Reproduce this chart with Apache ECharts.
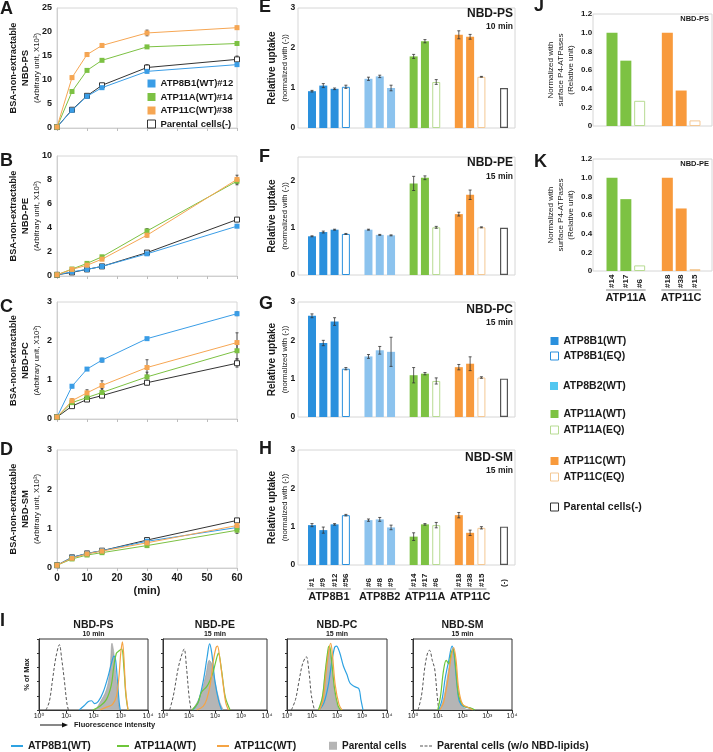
<!DOCTYPE html>
<html><head><meta charset="utf-8"><title>P4-ATPase flippase activity</title>
<script src="https://cdn.jsdelivr.net/npm/echarts@6.0.0/dist/echarts.min.js"></script>
<style>html,body{margin:0;padding:0;background:#fff;}#chart{width:713px;height:752px;}</style>
</head><body><div id="chart"></div>
<script>
// ===================== DATA =====================
const timeMin = [0, 5, 10, 15, 30, 60];

// A: NBD-PS (x10^2)
const psATP8B1   = [0.2, 3.7, 6.6, 8.4, 11.8, 13.2];
const psATP11A   = [0.2, 7.6, 12.0, 14.1, 16.9, 17.6];
const psATP11C   = [0.2, 10.5, 15.3, 17.2, 19.8, 20.9];
const psParental = [0.2, 3.8, 6.7, 8.9, 12.6, 14.3];
const psErrATP8B1   = [0, 0.2, 0.2, 0.2, 0.3, 0.3];
const psErrATP11A   = [0, 0.2, 0.2, 0.2, 0.2, 0.2];
const psErrATP11C   = [0, 0.3, 0.4, 0.4, 0.6, 0.3];
const psErrParental = [0, 0.2, 0.2, 0.3, 0.6, 0.7];

// B: NBD-PE
const peATP8B1   = [0.1, 0.35, 0.55, 0.8, 1.85, 4.15];
const peATP11A   = [0.1, 0.58, 1.05, 1.6, 3.75, 7.9];
const peATP11C   = [0.1, 0.55, 0.9, 1.4, 3.4, 8.05];
const peParental = [0.1, 0.3, 0.55, 0.8, 1.95, 4.7];
const peErrATP8B1   = [0, 0.05, 0.05, 0.05, 0.1, 0.1];
const peErrATP11A   = [0, 0.08, 0.1, 0.1, 0.2, 0.3];
const peErrATP11C   = [0, 0.08, 0.1, 0.1, 0.15, 0.35];
const peErrParental = [0, 0.05, 0.05, 0.05, 0.1, 0.1];

// C: NBD-PC
const pcATP8B1   = [0.05, 0.84, 1.28, 1.51, 2.06, 2.7];
const pcATP11A   = [0.05, 0.42, 0.55, 0.68, 1.08, 1.75];
const pcATP11C   = [0.05, 0.47, 0.67, 0.86, 1.32, 1.96];
const pcParental = [0.05, 0.33, 0.5, 0.6, 0.93, 1.43];
const pcErrATP8B1   = [0, 0.04, 0.03, 0.05, 0.03, 0.05];
const pcErrATP11A   = [0, 0.05, 0.08, 0.1, 0.12, 0.2];
const pcErrATP11C   = [0, 0.05, 0.08, 0.12, 0.2, 0.25];
const pcErrParental = [0, 0.03, 0.03, 0.05, 0.05, 0.1];

// D: NBD-SM
const smATP8B1   = [0.07, 0.27, 0.37, 0.44, 0.68, 1.03];
const smATP11A   = [0.07, 0.23, 0.33, 0.39, 0.57, 0.96];
const smATP11C   = [0.07, 0.25, 0.36, 0.43, 0.64, 1.08];
const smParental = [0.07, 0.27, 0.37, 0.44, 0.71, 1.21];
const smErrATP8B1   = [0, 0.02, 0.02, 0.03, 0.04, 0.05];
const smErrATP11A   = [0, 0.02, 0.02, 0.03, 0.05, 0.08];
const smErrATP11C   = [0, 0.02, 0.02, 0.03, 0.05, 0.05];
const smErrParental = [0, 0.02, 0.02, 0.02, 0.04, 0.05];

// E-H: relative uptake
const barCats  = ['#1', '#9', '#12', '#56', '', '#6', '#8', '#9', '', '#14', '#17', '#6', '', '#18', '#38', '#15', '', '(-)'];
const barGroup = ['8B1WT', '8B1WT', '8B1WT', '8B1EQ', '', '8B2WT', '8B2WT', '8B2WT', '', '11AWT', '11AWT', '11AEQ', '', '11CWT', '11CWT', '11CEQ', '', 'PAR'];
const groupNamesEH = ['ATP8B1', 'ATP8B2', 'ATP11A', 'ATP11C'];
const groupStartEH = [0, 5, 9, 13];
const groupEndEH   = [3, 7, 11, 15];

const uptakePS = [0.92, 1.06, 0.98, 1.03, null, 1.23, 1.29, 1.00, null, 1.79, 2.17, 1.15, null, 2.33, 2.28, 1.28, null, 1.00];
const errPS    = [0.02, 0.05, 0.02, 0.04, 0, 0.04, 0.03, 0.07, 0, 0.05, 0.04, 0.06, 0, 0.10, 0.06, 0.01, 0, 0];
const starsPS  = ['', '', '', '', '', '', '', '', '', '*', '*', '', '', '*', '*', '', '', ''];

const uptakePE = [0.82, 0.91, 0.96, 0.87, null, 0.96, 0.85, 0.84, null, 1.94, 2.06, 1.01, null, 1.29, 1.70, 1.01, null, 1.00];
const errPE    = [0.01, 0.02, 0.01, 0.01, 0, 0.01, 0.01, 0.01, 0, 0.15, 0.04, 0.02, 0, 0.04, 0.10, 0.01, 0, 0];
const starsPE  = ['', '', '', '', '', '', '', '', '', '*', '*', '', '', '*', '*', '', '', ''];

const uptakePC = [2.64, 1.93, 2.49, 1.26, null, 1.58, 1.74, 1.70, null, 1.09, 1.13, 0.94, null, 1.30, 1.39, 1.03, null, 1.00];
const errPC    = [0.05, 0.07, 0.10, 0.03, 0, 0.05, 0.10, 0.38, 0, 0.20, 0.03, 0.08, 0, 0.07, 0.18, 0.02, 0, 0];
const starsPC  = ['*', '*', '*', '', '', '*', '**', '', '', '', '', '', '', '', '', '', '', ''];

const uptakeSM = [1.04, 0.91, 1.06, 1.30, null, 1.17, 1.19, 0.98, null, 0.74, 1.06, 1.04, null, 1.30, 0.84, 0.97, null, 1.00];
const errSM    = [0.04, 0.08, 0.02, 0.02, 0, 0.03, 0.05, 0.06, 0, 0.10, 0.02, 0.07, 0, 0.07, 0.07, 0.03, 0, 0];
const starsSM  = ['', '', '', '', '', '', '', '', '', '', '', '', '', '', '', '', '', ''];

// J-K: normalized with surface P4-ATPases
const jkCats  = ['#14', '#17', '#6', '', '#18', '#38', '#15'];
const jkGroup = ['11AWT', '11AWT', '11AEQ', '', '11CWT', '11CWT', '11CEQ'];
const groupNamesJK = ['ATP11A', 'ATP11C'];
const groupStartJK = [0, 4];
const groupEndJK   = [2, 6];
const normPS = [1.0, 0.70, 0.27, null, 1.0, 0.38, 0.06];
const normPE = [1.0, 0.77, 0.06, null, 1.0, 0.67, 0.02];

// I: flow cytometry histograms ([fluorescence intensity, % of max])
const histTitles = ['NBD-PS', 'NBD-PE', 'NBD-PC', 'NBD-SM'];
const histTimes  = ['10 min', '15 min', '15 min', '15 min'];
const histPS_noLipid = [[1.8,0],[2.4,12],[3.2,45],[4.2,75],[5.6,92],[6.8,72],[8.5,42],[10.5,10],[12,0]];
const histPS_parental = [[120,0],[170,10],[295,28],[400,55],[477,94],[560,80],[690,40],[850,8],[910,0]];
const histPS_ATP8B1 = [[30,0],[45,6],[65,12],[85,13],[110,9],[150,12],[225,25],[330,45],[450,65],[560,76],[650,70],[760,40],[880,10],[960,0]];
const histPS_ATP11A = [[95,0],[180,6],[300,15],[450,35],[550,60],[690,80],[850,83],[1080,86],[1300,60],[1550,20],[1850,0]];
const histPS_ATP11C = [[170,0],[300,4],[500,8],[700,20],[850,45],[1000,80],[1150,96],[1300,75],[1500,30],[1850,0]];

const histPE_noLipid = [[1.8,0],[2.5,20],[3.8,58],[5,75],[6.5,86],[8,60],[10,20],[12,0]];
const histPE_parental = [[13,0],[20,10],[30,25],[45,50],[60,70],[75,65],[100,40],[150,12],[210,0]];
const histPE_ATP8B1 = [[14,0],[22,10],[35,40],[50,75],[62,93],[75,80],[100,40],[140,12],[180,0]];
const histPE_ATP11A = [[13,0],[22,10],[30,25],[48,33],[65,42],[87,55],[110,70],[135,80],[180,55],[250,18],[380,0]];
const histPE_ATP11C = [[20,0],[35,5],[48,15],[65,35],[87,70],[110,88],[125,90],[150,75],[200,40],[260,10],[330,0]];

const histPC_noLipid = [[1.5,0],[2.2,15],[3,40],[4.2,65],[5.9,75],[7.5,55],[9.5,20],[12.5,0]];
const histPC_parental = [[18,0],[25,15],[33,50],[45,85],[50,87],[60,70],[75,35],[100,8],[127,0]];
const histPC_ATP8B1 = [[20,0],[30,10],[45,35],[60,65],[80,88],[95,90],[125,82],[180,62],[250,50],[330,38],[500,33],[750,30],[900,15],[1100,0]];
const histPC_ATP11A = [[18,0],[26,18],[34,55],[45,88],[50,90],[60,72],[80,30],[110,6],[140,0]];
const histPC_ATP11C = [[20,0],[28,15],[36,50],[48,85],[56,94],[65,80],[85,35],[120,8],[160,0]];

const histSM_noLipid = [[1.6,0],[2.2,20],[3,60],[4,82],[4.7,84],[6,70],[7.5,58],[9.5,20],[11,0]];
const histSM_parental = [[12,0],[17,15],[24,45],[32,70],[41,87],[50,70],[65,30],[90,8],[125,2],[200,0]];
const histSM_ATP8B1 = [[11,0],[15,15],[20,45],[28,70],[38,90],[45,80],[60,35],[75,12],[110,5],[180,3],[300,0]];
const histSM_ATP11A = [[10,0],[13,20],[17,55],[22,70],[28,65],[35,80],[42,85],[55,55],[70,20],[110,6],[200,3],[320,0]];
const histSM_ATP11C = [[12,0],[17,10],[25,40],[35,75],[44,88],[55,70],[70,30],[100,8],[160,4],[260,0]];

// ===================== STYLE =====================
const FONT = "'Liberation Sans', Arial, 'DejaVu Sans', sans-serif";
const BLUE = '#2a90dd', LBLUE = '#8cc3ee', CYAN = '#52c7f0', GREEN = '#7dc243', ORANGE = '#f89a3c';
const LBLUE_LINE = '#3a9de6', GREEN_LINE = '#7cc143', ORANGE_LINE = '#f6a653';
const TXT = '#1a1a1a';

const grids = [], xAxes = [], yAxes = [], series = [];

function renderErr(params, api) {
  const x = api.value(0), y = api.value(1), e = api.value(2);
  if (!e) return null;
  const p1 = api.coord([x, y + e]), p2 = api.coord([x, y - e]);
  const w = 1.5, st = { stroke: '#333', lineWidth: 0.8 };
  return { type: 'group', children: [
    { type: 'line', shape: { x1: p1[0], y1: p1[1], x2: p2[0], y2: p2[1] }, style: st },
    { type: 'line', shape: { x1: p1[0] - w, y1: p1[1], x2: p1[0] + w, y2: p1[1] }, style: st },
    { type: 'line', shape: { x1: p2[0] - w, y1: p2[1], x2: p2[0] + w, y2: p2[1] }, style: st }
  ]};
}

// ---------- A-D line panels ----------
const lineNames = ['ATP8B1(WT)#12', 'ATP11A(WT)#14', 'ATP11C(WT)#38', 'Parental cells(-)'];
const lineColors = [LBLUE_LINE, GREEN_LINE, ORANGE_LINE, '#333'];
const linePanels = [
  { top: 8,   h: 120, max: 25, iv: 5, vals: [psATP8B1, psATP11A, psATP11C, psParental], errs: [psErrATP8B1, psErrATP11A, psErrATP11C, psErrParental] },
  { top: 156, h: 120, max: 10, iv: 2, vals: [peATP8B1, peATP11A, peATP11C, peParental], errs: [peErrATP8B1, peErrATP11A, peErrATP11C, peErrParental] },
  { top: 302, h: 117, max: 3,  iv: 1, vals: [pcATP8B1, pcATP11A, pcATP11C, pcParental], errs: [pcErrATP8B1, pcErrATP11A, pcErrATP11C, pcErrParental] },
  { top: 450, h: 118, max: 3,  iv: 1, vals: [smATP8B1, smATP11A, smATP11C, smParental], errs: [smErrATP8B1, smErrATP11A, smErrATP11C, smErrParental], showX: true }
];
linePanels.forEach(p => {
  const gi = grids.length;
  grids.push({ left: 57, top: p.top, width: 180, height: p.h, show: true, borderColor: '#d6d6d6', borderWidth: 1 });
  xAxes.push({ gridIndex: gi, type: 'value', min: 0, max: 60, interval: 10,
    axisLine: { lineStyle: { color: '#cfcfcf' } }, axisTick: { show: true, length: 3, lineStyle: { color: '#bdbdbd' } },
    axisLabel: { show: !!p.showX, fontFamily: FONT, fontWeight: 'bold', fontSize: 10, color: TXT, margin: 5 },
    splitLine: { show: false } });
  yAxes.push({ gridIndex: gi, type: 'value', min: 0, max: p.max, interval: p.iv,
    axisLine: { show: true, lineStyle: { color: '#cfcfcf' } }, axisTick: { show: false },
    axisLabel: { fontFamily: FONT, fontWeight: 'bold', fontSize: 9, color: TXT, margin: 5 },
    splitLine: { show: false } });
  p.vals.forEach((v, s) => {
    const par = s === 3;
    series.push({ type: 'custom', xAxisIndex: gi, yAxisIndex: gi, renderItem: renderErr, silent: true, z: 3,
      data: timeMin.map((t, k) => [t, v[k], p.errs[s][k]]) });
    series.push({ type: 'line', name: lineNames[s], xAxisIndex: gi, yAxisIndex: gi,
      data: timeMin.map((t, k) => [t, v[k]]), symbol: 'rect', symbolSize: 5, z: par ? 4 : 5,
      itemStyle: par ? { color: '#fff', borderColor: '#333', borderWidth: 1 } : { color: lineColors[s] },
      lineStyle: { color: lineColors[s], width: 1 } });
  });
});

// ---------- bar panels ----------
const barKinds = [
  { key: '8B1WT', name: 'ATP8B1(WT)', fill: BLUE,   border: BLUE,      bw: 0 },
  { key: '8B1EQ', name: 'ATP8B1(EQ)', fill: '#fff', border: BLUE,      bw: 1 },
  { key: '8B2WT', name: 'ATP8B2(WT)', fill: LBLUE,  border: LBLUE,     bw: 0 },
  { key: '11AWT', name: 'ATP11A(WT)', fill: GREEN,  border: GREEN,     bw: 0 },
  { key: '11AEQ', name: 'ATP11A(EQ)', fill: '#fff', border: '#b7db92', bw: 1 },
  { key: '11CWT', name: 'ATP11C(WT)', fill: ORANGE, border: ORANGE,    bw: 0 },
  { key: '11CEQ', name: 'ATP11C(EQ)', fill: '#fff', border: '#f4c894', bw: 1 },
  { key: 'PAR',   name: 'Parental cells(-)', fill: '#fff', border: '#555', bw: 1.2 }
];

function barPanel(cfg) {
  const fi = grids.length;
  grids.push({ left: cfg.frameLeft, top: cfg.top, width: cfg.frameW, height: cfg.h, show: true, borderColor: '#d6d6d6', borderWidth: 1 });
  xAxes.push({ gridIndex: fi, type: 'value', show: false, min: 0, max: 1 });
  yAxes.push({ gridIndex: fi, type: 'value', show: false, min: 0, max: 1 });
  const bi = grids.length;
  grids.push({ left: cfg.left, top: cfg.top, width: cfg.w, height: cfg.h });
  xAxes.push({ gridIndex: bi, type: 'category', data: cfg.cats, boundaryGap: true,
    axisLine: { show: false }, axisTick: { show: false },
    axisLabel: { show: !!cfg.showX, interval: 0, rotate: 90, align: 'left', margin: cfg.xMargin,
      fontFamily: FONT, fontWeight: 'bold', fontSize: cfg.xFont, color: TXT } });
  yAxes.push({ gridIndex: bi, type: 'value', min: 0, max: cfg.max, interval: cfg.iv,
    axisLine: { show: false }, axisTick: { show: false }, splitLine: { show: false },
    axisLabel: { fontFamily: FONT, fontWeight: 'bold', fontSize: cfg.yFont, color: TXT, margin: cfg.yMargin,
      showMaxLabel: cfg.showMax !== false, formatter: cfg.yFmt } });
  barKinds.forEach(k => {
    if (!cfg.groups.includes(k.key)) return;
    series.push({ type: 'bar', name: k.name, xAxisIndex: bi, yAxisIndex: bi, barWidth: cfg.barW, barGap: '-100%',
      data: cfg.vals.map((v, i) => (cfg.groups[i] === k.key && v != null) ? v : '-'),
      itemStyle: { color: k.fill, borderColor: k.border, borderWidth: k.bw } });
  });
  if (cfg.errs) {
    series.push({ type: 'custom', xAxisIndex: bi, yAxisIndex: bi, renderItem: renderErr, silent: true, z: 5,
      data: cfg.vals.map((v, i) => v == null ? null : [i, v, cfg.errs[i]]).filter(d => d) });
  }
  if (cfg.stars) {
    series.push({ type: 'scatter', xAxisIndex: bi, yAxisIndex: bi, symbolSize: 1, itemStyle: { opacity: 0 }, silent: true,
      data: cfg.vals.map((v, i) => cfg.stars[i] ? [i, v + cfg.errs[i], cfg.stars[i]] : null).filter(d => d),
      label: { show: true, position: 'top', distance: -1, formatter: p => p.value[2],
        fontFamily: FONT, fontSize: 12, color: TXT } });
  }
  return bi;
}

const ehCfg = (top, h, max, vals, errs, stars, showX) => ({
  frameLeft: 298, frameW: 217, left: 306.35, w: 203.3, top, h, max, iv: 1, cats: barCats, groups: barGroup,
  vals, errs, stars, showX, barW: 8, xMargin: 22, xFont: 8, yFont: 8.5, yMargin: 11, showMax: max === 3
});
barPanel(ehCfg(8, 120, 3, uptakePS, errPS, starsPS));
barPanel(ehCfg(157, 118, 2.5, uptakePE, errPE, starsPE));
barPanel(ehCfg(302, 115, 3, uptakePC, errPC, starsPC));
const hAxis = barPanel(ehCfg(450, 115, 3, uptakeSM, errSM, starsSM, true));

const jkCfg = (top, vals, showX) => ({
  frameLeft: 593, frameW: 119, left: 605.1, w: 96.8, top, h: 112, max: 1.2, iv: 0.2, cats: jkCats, groups: jkGroup,
  vals, showX, barW: 11, xMargin: 17, xFont: 8, yFont: 8, yMargin: 13,
  yFmt: v => v === 0 ? '0' : v.toFixed(1)
});
barPanel(jkCfg(14, normPS));
const kAxis = barPanel(jkCfg(159, normPE, true));

// ---------- I: histograms ----------
const histBoxes = [[39, 109], [163, 104], [287, 100], [413, 99]];
const histSets = [
  [histPS_noLipid, histPS_parental, histPS_ATP8B1, histPS_ATP11A, histPS_ATP11C],
  [histPE_noLipid, histPE_parental, histPE_ATP8B1, histPE_ATP11A, histPE_ATP11C],
  [histPC_noLipid, histPC_parental, histPC_ATP8B1, histPC_ATP11A, histPC_ATP11C],
  [histSM_noLipid, histSM_parental, histSM_ATP8B1, histSM_ATP11A, histSM_ATP11C]
];
const sup = ['\u2070', '\u00b9', '\u00b2', '\u00b3', '\u2074'];
histBoxes.forEach((b, i) => {
  const gi = grids.length;
  grids.push({ left: b[0], top: 639, width: b[1], height: 71, show: true, borderColor: '#333', borderWidth: 1 });
  xAxes.push({ gridIndex: gi, type: 'log', logBase: 10, min: 1, max: 10000,
    axisLine: { lineStyle: { color: '#333' } }, axisTick: { length: 3, lineStyle: { color: '#333' } },
    splitLine: { show: false },
    axisLabel: { fontFamily: FONT, fontSize: 7, color: TXT, margin: 3,
      formatter: v => '10' + sup[Math.round(Math.log10(v))] } });
  yAxes.push({ gridIndex: gi, type: 'value', min: 0, max: 100, interval: 20,
    axisLine: { show: true, lineStyle: { color: '#333' } }, axisTick: { show: true, length: 2, lineStyle: { color: '#333' } },
    axisLabel: { show: false }, splitLine: { show: false },
    name: i === 0 ? '% of Max' : '', nameLocation: 'middle', nameGap: 8, nameRotate: 90,
    nameTextStyle: { fontFamily: FONT, fontSize: 7.5, fontWeight: 'bold', color: TXT } });
  const s = histSets[i];
  series.push({ type: 'line', name: 'Parental cells', xAxisIndex: gi, yAxisIndex: gi, data: s[1], smooth: 0.35, symbol: 'none',
    lineStyle: { color: '#9a9a9a', width: 0.6 }, areaStyle: { color: '#b5b5b5', opacity: 1 }, z: 2 });
  series.push({ type: 'line', name: 'Parental cells (w/o NBD-lipids)', xAxisIndex: gi, yAxisIndex: gi, data: s[0], smooth: 0.35, symbol: 'none',
    lineStyle: { color: '#555', width: 1, type: [3, 2] }, z: 3 });
  series.push({ type: 'line', name: 'ATP8B1(WT) ', xAxisIndex: gi, yAxisIndex: gi, data: s[2], smooth: 0.35, symbol: 'none',
    lineStyle: { color: '#2ea2e2', width: 1.2 }, z: 4 });
  series.push({ type: 'line', name: 'ATP11A(WT) ', xAxisIndex: gi, yAxisIndex: gi, data: s[3], smooth: 0.35, symbol: 'none',
    lineStyle: { color: '#6ec63a', width: 1.2 }, z: 4 });
  series.push({ type: 'line', name: 'ATP11C(WT) ', xAxisIndex: gi, yAxisIndex: gi, data: s[4], smooth: 0.35, symbol: 'none',
    lineStyle: { color: '#f5a444', width: 1.2 }, z: 4 });
});

// ---------- legends ----------
const legTxt = (size) => ({ fontFamily: FONT, fontWeight: 'bold', fontSize: size, color: TXT, lineHeight: size + 2.5 });
const sq = (fill, border, bw) => ({ color: fill, borderColor: border, borderWidth: bw });
const legends = [
  { left: 147, top: 77.5, orient: 'vertical', padding: 0, itemWidth: 8, itemHeight: 8, itemGap: 1.5, icon: 'rect',
    textStyle: legTxt(9.5),
    data: [
      { name: 'ATP8B1(WT)#12', itemStyle: sq(LBLUE_LINE, LBLUE_LINE, 0) },
      { name: 'ATP11A(WT)#14', itemStyle: sq(GREEN_LINE, GREEN_LINE, 0) },
      { name: 'ATP11C(WT)#38', itemStyle: sq(ORANGE_LINE, ORANGE_LINE, 0) },
      { name: 'Parental cells(-)', itemStyle: sq('#fff', '#333', 1) } ] },
  { left: 550, top: 334.5, orient: 'vertical', padding: 0, itemWidth: 8, itemHeight: 8, itemGap: 2, icon: 'rect', textStyle: legTxt(10.5),
    data: [{ name: 'ATP8B1(WT)', itemStyle: sq(BLUE, BLUE, 0) }, { name: 'ATP8B1(EQ)', itemStyle: sq('#fff', BLUE, 1) }] },
  { left: 550, top: 379.5, orient: 'vertical', padding: 0, itemWidth: 8, itemHeight: 8, icon: 'rect', textStyle: legTxt(10.5),
    data: [{ name: 'ATP8B2(WT)', itemStyle: sq(CYAN, CYAN, 0) }] },
  { left: 550, top: 407.5, orient: 'vertical', padding: 0, itemWidth: 8, itemHeight: 8, itemGap: 3, icon: 'rect', textStyle: legTxt(10.5),
    data: [{ name: 'ATP11A(WT)', itemStyle: sq(GREEN, GREEN, 0) }, { name: 'ATP11A(EQ)', itemStyle: sq('#fff', '#b7db92', 1) }] },
  { left: 550, top: 454.5, orient: 'vertical', padding: 0, itemWidth: 8, itemHeight: 8, itemGap: 3, icon: 'rect', textStyle: legTxt(10.5),
    data: [{ name: 'ATP11C(WT)', itemStyle: sq(ORANGE, ORANGE, 0) }, { name: 'ATP11C(EQ)', itemStyle: sq('#fff', '#f4c894', 1) }] },
  { left: 550, top: 500.5, orient: 'vertical', padding: 0, itemWidth: 8, itemHeight: 8, icon: 'rect', textStyle: legTxt(10.5),
    data: [{ name: 'Parental cells(-)', itemStyle: sq('#fff', '#333', 1) }] },
  // bottom legends for I
  { left: 11, top: 739.5, padding: 0, itemWidth: 12, itemHeight: 2, icon: 'rect', textStyle: legTxt(10.5), formatter: n => n.trim(),
    data: [{ name: 'ATP8B1(WT) ', itemStyle: { color: '#2ea2e2' } }] },
  { left: 117, top: 739.5, padding: 0, itemWidth: 12, itemHeight: 2, icon: 'rect', textStyle: legTxt(10.5), formatter: n => n.trim(),
    data: [{ name: 'ATP11A(WT) ', itemStyle: { color: '#6ec63a' } }] },
  { left: 217, top: 739.5, padding: 0, itemWidth: 12, itemHeight: 2, icon: 'rect', textStyle: legTxt(10.5), formatter: n => n.trim(),
    data: [{ name: 'ATP11C(WT) ', itemStyle: { color: '#f5a444' } }] },
  { left: 329, top: 739.5, padding: 0, itemWidth: 8, itemHeight: 8, icon: 'rect', textStyle: legTxt(10), itemGap: 0,
    data: [{ name: 'Parental cells', itemStyle: { color: '#b5b5b5' } }] },
  { left: 420, top: 739.5, padding: 0, itemWidth: 12, itemHeight: 1.5, textStyle: legTxt(10.5),
    icon: 'path://M0,0H3V1H0Z M4.5,0H7.5V1H4.5Z M9,0H12V1H9Z',
    data: [{ name: 'Parental cells (w/o NBD-lipids)', itemStyle: { color: '#555' } }] }
];

// ---------- static texts ----------
function T(x, y, s, size, weight, align, rot, color) {
  return { type: 'text', x, y, rotation: rot || 0, silent: true,
    style: { text: s, fontFamily: FONT, fontSize: size, fontWeight: weight || 'normal', fill: color || TXT,
      align: align || 'center', verticalAlign: 'middle' } };
}
const R = Math.PI / 2;
const graphics = [];
[['A', 0, 9], ['B', 0, 161], ['C', 0, 307], ['D', 0, 450], ['E', 259, 7], ['F', 259, 157], ['G', 259, 304], ['H', 259, 449],
 ['J', 534, 6], ['K', 534, 162], ['I', 0, 621]].forEach(l => graphics.push(T(l[1], l[2], l[0], 18, 'bold', 'left')));
['NBD-PS', 'NBD-PE', 'NBD-PC', 'NBD-SM'].forEach((n, i) => {
  const cy = linePanels[i].top + linePanels[i].h / 2;
  graphics.push(T(13, cy, 'BSA-non-extractable', 9.2, 'bold', 'center', R));
  graphics.push(T(25.5, cy, n, 9.5, 'bold', 'center', R));
  graphics.push(T(37, cy, '(Arbitrary unit, X10\u00b2)', 7.8, 'normal', 'center', R));
});
graphics.push(T(147, 591, '(min)', 11, 'bold', 'center'));
[[8, 120, 'NBD-PS', '10 min', 14, 27], [157, 118, 'NBD-PE', '15 min', 163, 177], [302, 115, 'NBD-PC', '15 min', 310, 323], [450, 115, 'NBD-SM', '15 min', 458, 471]]
  .forEach(t => {
    const cy = t[0] + t[1] / 2;
    graphics.push(T(272, cy, 'Relative uptake', 10, 'bold', 'center', R));
    graphics.push(T(285, cy, '(normalized with (-))', 7.6, 'normal', 'center', R));
    graphics.push(T(513, t[4], t[2], 12, 'bold', 'right'));
    graphics.push(T(513, t[5], t[3], 8.5, 'bold', 'right'));
  });
[[70, 'NBD-PS', 19], [215, 'NBD-PE', 164]].forEach(t => {
  graphics.push(T(551, t[0], 'Normalized with', 8, 'normal', 'center', R));
  graphics.push(T(561, t[0], 'surface P4-ATPases', 8, 'normal', 'center', R));
  graphics.push(T(571, t[0], '(Relative unit)', 8, 'normal', 'center', R));
  graphics.push(T(709, t[2], t[1], 7.5, 'bold', 'right'));
});
histBoxes.forEach((b, i) => {
  graphics.push(T(b[0] + b[1] / 2, 625, histTitles[i], 10.5, 'bold', 'center'));
  graphics.push(T(b[0] + b[1] / 2, 634.5, histTimes[i], 7, 'bold', 'center'));
});
graphics.push({ type: 'line', silent: true, shape: { x1: 40, y1: 725, x2: 64, y2: 725 }, style: { stroke: '#111', lineWidth: 1 } });
graphics.push({ type: 'polygon', silent: true, shape: { points: [[68, 725], [62, 722.5], [62, 727.5]] }, style: { fill: '#111' } });
graphics.push(T(74, 725, 'Fluorescence intensity', 7.5, 'bold', 'left'));

const option = {
  animation: false,
  backgroundColor: '#fff',
  textStyle: { fontFamily: FONT },
  grid: grids, xAxis: xAxes, yAxis: yAxes, series, legend: legends,
  graphic: graphics
};

const chart = echarts.init(document.getElementById('chart'), null, { renderer: 'canvas' });
chart.setOption(option);

function groupLabels(axisIdx, names, starts, ends, yLine, yText, half) {
  names.forEach((n, i) => {
    const x0 = chart.convertToPixel({ xAxisIndex: axisIdx }, starts[i]);
    const x1 = chart.convertToPixel({ xAxisIndex: axisIdx }, ends[i]);
    graphics.push({ type: 'line', silent: true, shape: { x1: x0 - half, y1: yLine, x2: x1 + half, y2: yLine }, style: { stroke: '#8a8a8a', lineWidth: 1.2 } });
    graphics.push(T((x0 + x1) / 2, yText, n, 11, 'bold', 'center'));
  });
}
groupLabels(hAxis, groupNamesEH, groupStartEH, groupEndEH, 589, 597, 5);
groupLabels(kAxis, groupNamesJK, groupStartJK, groupEndJK, 290, 298, 6);
chart.setOption({ graphic: graphics });
</script></body></html>
